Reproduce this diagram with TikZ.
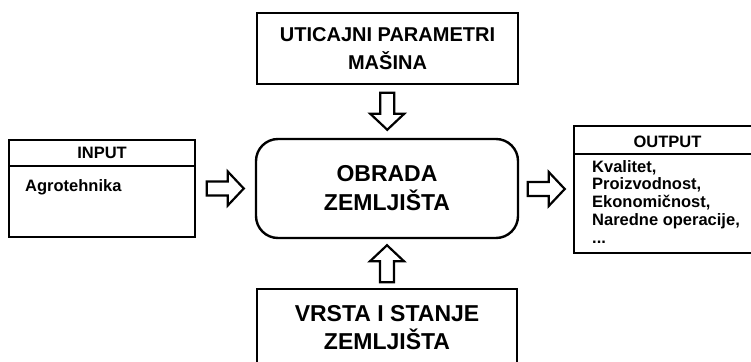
\documentclass[tikz,border=0pt]{standalone}
\usepackage{fontspec}
\setmainfont{Liberation Sans}
\usetikzlibrary{calc}
\tikzset{
  box/.style={draw, line width=1.4pt, inner sep=0pt, align=center, font=\bfseries},
  mainbox/.style={draw, line width=2.4pt, rounded corners=22pt, inner sep=0pt, align=center, font=\bfseries\fontsize{23}{29}\selectfont},
  arrowline/.style={draw, line width=2.2pt, fill=white, line join=miter},
  blockarrow/.pic={\path[arrowline] (-18.5,-7) -- (2.5,-7) -- (2.5,-17) -- (18.5,0) -- (2.5,17) -- (2.5,7) -- (-18.5,7) -- cycle;}
}
\begin{document}
\begin{tikzpicture}[x=1pt,y=-1pt]
\useasboundingbox (0,0) rectangle (751,361);
% top box
\node[box, minimum width=261pt, minimum height=71pt, font=\bfseries\fontsize{20}{28}\selectfont] (top) at (387.5,48.5) {UTICAJNI PARAMETRI\\MAŠINA};
% centre
\node[mainbox, minimum width=262pt, minimum height=99pt] (main) at (387,188.5) {OBRADA\\ZEMLJIŠTA};
% bottom
\node[box, minimum width=260pt, minimum height=77pt, font=\bfseries\fontsize{23}{28}\selectfont] (bot) at (387,327.5) {VRSTA I STANJE\\ZEMLJIŠTA};
% input
\node[box, minimum width=186pt, minimum height=97pt] (in) at (102,188.5) {};
\coordinate (inl) at (9,166);
\coordinate (inr) at (195,166);
\draw[line width=1.4pt] (inl) -- (inr);
\node[font=\bfseries\fontsize{16.5}{20}\selectfont, inner sep=0pt] (inh) at (102,153) {INPUT};
\node[font=\bfseries\fontsize{16.5}{20}\selectfont, inner sep=0pt, anchor=base west] (int) at (25,191) {Agrotehnika};
% output
\node[box, minimum width=187pt, minimum height=127pt] (out) at (667.5,189.5) {};
\coordinate (outl) at (574,154);
\coordinate (outr) at (761,154);
\draw[line width=1.4pt] (outl) -- (outr);
\node[font=\bfseries\fontsize{16.5}{20}\selectfont, inner sep=0pt] (outh) at (667.5,142) {OUTPUT};
\node[font=\bfseries\fontsize{16.5}{17.75}\selectfont, inner sep=0pt, anchor=base west, align=left] (outt) at (592,243) {Kvalitet,\\Proizvodnost,\\Ekonomičnost,\\Naredne operacije,\\...};
% arrows
\pic[rotate=-90] at ($(top.south)!0.5!(main.north)$) {blockarrow};
\pic[rotate=90] at ($(main.south)!0.5!(bot.north)$) {blockarrow};
\pic at ($(in.east)!0.5!(main.west)$) {blockarrow};
\pic at ($(main.east)!0.5!(out.west)$) {blockarrow};
\end{tikzpicture}
\end{document}
